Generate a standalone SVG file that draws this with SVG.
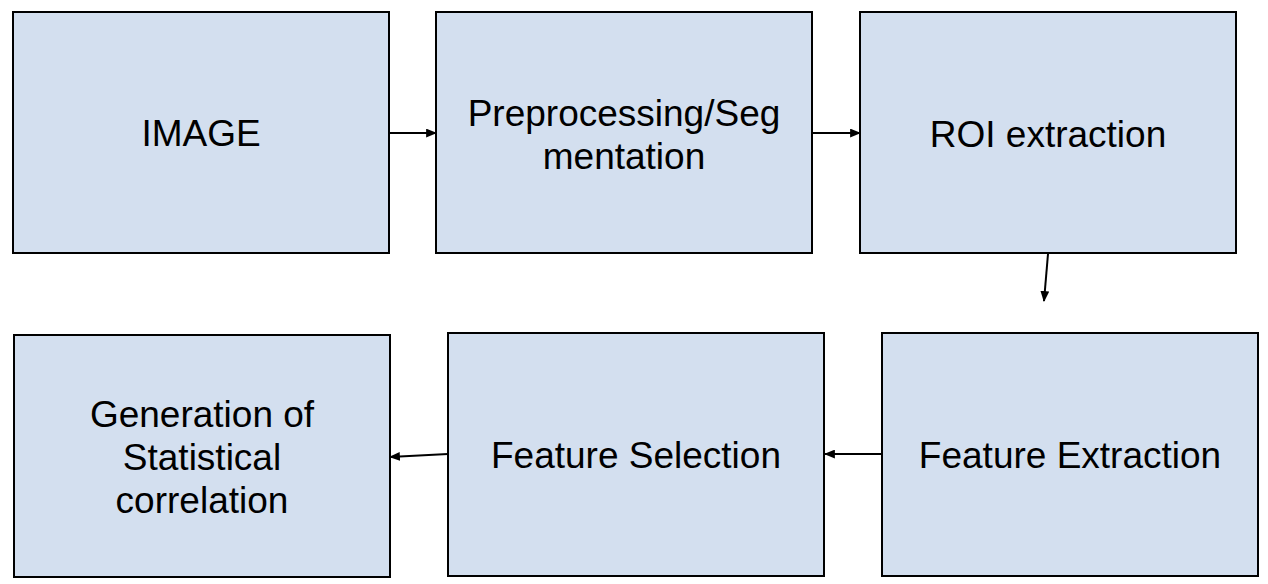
<svg xmlns="http://www.w3.org/2000/svg" width="1268" height="584" viewBox="0 0 1268 584">
<defs>
<style>
.box{fill:#d3dfef;stroke:#000;stroke-width:2}
.t{font-family:"Liberation Sans",Arial,sans-serif;font-size:37px;fill:#000;text-anchor:middle}
.c{stroke:#000;stroke-width:2;fill:none;marker-end:url(#ah)}
</style>
<marker id="ah" viewBox="0 0 10 8" refX="9" refY="4" markerWidth="11" markerHeight="9" markerUnits="userSpaceOnUse" orient="auto">
<path d="M0,0 L10,4 L0,8 z" fill="#000"/>
</marker>
</defs>
<rect width="1268" height="584" fill="#fff"/>
<g id="n1"><rect class="box" x="13" y="12" width="376" height="241"/><text class="t" x="201" y="146">IMAGE</text></g>
<g id="n2"><rect class="box" x="436" y="12" width="376" height="241"/><text class="t" x="624" y="126">Preprocessing/Seg</text><text class="t" x="624" y="169">mentation</text></g>
<g id="n3"><rect class="box" x="860" y="12" width="376" height="241"/><text class="t" x="1048" y="147">ROI extraction</text></g>
<g id="n4"><rect class="box" x="882" y="333" width="376" height="243"/><text class="t" x="1070" y="468">Feature Extraction</text></g>
<g id="n5"><rect class="box" x="448" y="333" width="376" height="243"/><text class="t" x="636" y="468">Feature Selection</text></g>
<g id="n6"><rect class="box" x="14" y="335" width="376" height="242"/><text class="t" x="202" y="427">Generation of</text><text class="t" x="202" y="470">Statistical</text><text class="t" x="202" y="513">correlation</text></g>
<g id="connectors">
<line class="c" x1="389" y1="133" x2="436" y2="133"/>
<line class="c" x1="812" y1="133" x2="860" y2="133"/>
<line class="c" x1="1048" y1="254" x2="1044" y2="301"/>
<line class="c" x1="882" y1="454" x2="825" y2="454"/>
<line class="c" x1="448" y1="454" x2="390" y2="457"/>
</g>
</svg>
